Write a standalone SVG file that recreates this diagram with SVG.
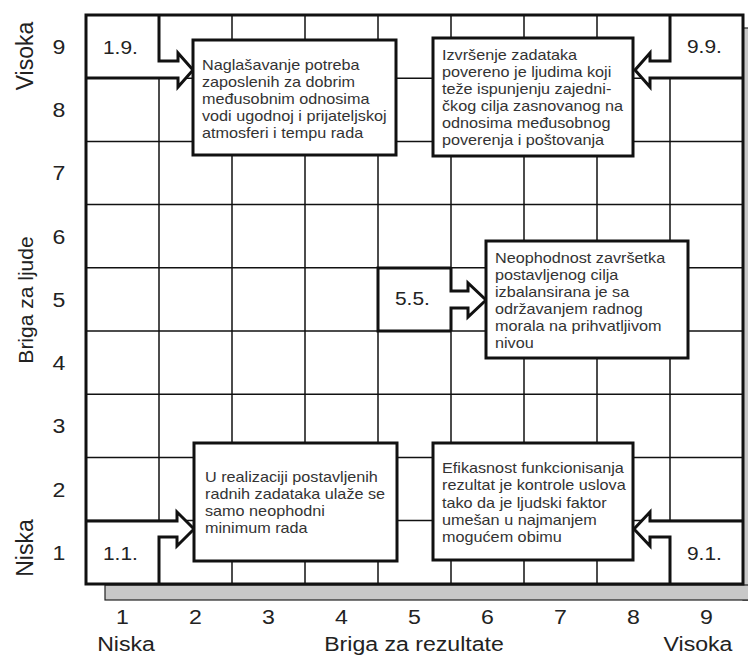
<svg xmlns="http://www.w3.org/2000/svg" width="748" height="657" viewBox="0 0 748 657">
<style>
text{font-family:"Liberation Sans",Arial,sans-serif;fill:#222}
.bt{font-size:15px;fill:#333}
.ax{font-size:21px}
.cl{font-size:19px}
.grid line{stroke:#111;stroke-width:1.5}
.thick{fill:none;stroke:#111;stroke-width:3;stroke-linejoin:miter}
.wf{fill:#fff;stroke:none}
.box{fill:#fff;stroke:#111;stroke-width:3}
</style>
<rect width="748" height="657" fill="#fff"/>
<!-- shadows -->
<rect x="743" y="28" width="20" height="572" fill="#c8c8c8" stroke="#222" stroke-width="1.2"/>
<rect x="105" y="585" width="660" height="15" fill="#c8c8c8" stroke="#222" stroke-width="1.2"/>
<rect x="86" y="15" width="657" height="569" fill="#fff"/>
<g class="grid">
<line x1="159" y1="15" x2="159" y2="584"/><line x1="232" y1="15" x2="232" y2="584"/>
<line x1="305" y1="15" x2="305" y2="584"/><line x1="378" y1="15" x2="378" y2="584"/>
<line x1="451" y1="15" x2="451" y2="584"/><line x1="524" y1="15" x2="524" y2="584"/>
<line x1="597" y1="15" x2="597" y2="584"/><line x1="670" y1="15" x2="670" y2="584"/>
<line x1="86" y1="78.2" x2="743" y2="78.2"/><line x1="86" y1="141.4" x2="743" y2="141.4"/>
<line x1="86" y1="204.6" x2="743" y2="204.6"/><line x1="86" y1="267.8" x2="743" y2="267.8"/>
<line x1="86" y1="331" x2="743" y2="331"/><line x1="86" y1="394.2" x2="743" y2="394.2"/>
<line x1="86" y1="457.4" x2="743" y2="457.4"/><line x1="86" y1="520.6" x2="743" y2="520.6"/>
</g>
<g id="connectors">
<path class="wf" d="M86,15 H159 V61 H178 V53 L193,70 L178,87 V78 H86 Z"/>
<path class="thick" d="M159,15 V61 H178 V53 L193,70 L178,87 V78 H86"/>
<path class="wf" d="M743,15 H670 V61 H650 V53 L635,70 L650,87 V78 H743 Z"/>
<path class="thick" d="M670,15 V61 H650 V53 L635,70 L650,87 V78 H743"/>
<path class="wf" d="M378,268 H451 V291 H468 V283 L486,300 L468,317 V308 H451 V331 H378 Z"/>
<path class="thick" d="M451,268 V291 H468 V283 L486,300 L468,317 V308 H451 V331"/>
<path class="thick" d="M451,268 H378 V331 H451"/>
<path class="wf" d="M86,521 H177 V512 L194,529 L177,546 V537 H159 V584 H86 Z"/>
<path class="thick" d="M86,521 H177 V512 L194,529 L177,546 V537 H159 V584"/>
<path class="wf" d="M743,521 H650 V512 L634,529 L650,546 V537 H670 V584 H743 Z"/>
<path class="thick" d="M743,521 H650 V512 L634,529 L650,546 V537 H670 V584"/>
</g>
<rect x="86" y="15" width="657" height="569" fill="none" stroke="#111" stroke-width="3"/>
<g id="cell-labels" class="cl">
<text transform="translate(103,54) scale(1.1,1)">1.9.</text>
<text transform="translate(687,53) scale(1.1,1)">9.9.</text>
<text transform="translate(395,305) scale(1.1,1)">5.5.</text>
<text transform="translate(103,560) scale(1.1,1)">1.1.</text>
<text transform="translate(687,560) scale(1.1,1)">9.1.</text>
</g>
<g id="node-19">
<rect class="box" x="193" y="40" width="203" height="115"/>
<text class="bt" transform="translate(202,70) scale(1.08,1)"><tspan x="0" y="0">Naglašavanje potreba</tspan><tspan x="0" dy="17">zaposlenih za dobrim</tspan><tspan x="0" dy="17">međusobnim odnosima</tspan><tspan x="0" dy="17">vodi ugodnoj i prijateljskoj</tspan><tspan x="0" dy="17">atmosferi i tempu rada</tspan></text>
</g>
<g id="node-99">
<rect class="box" x="433" y="38" width="200" height="118"/>
<text class="bt" transform="translate(442,60) scale(1.08,1)"><tspan x="0" y="0">Izvršenje zadataka</tspan><tspan x="0" dy="17">povereno je ljudima koji</tspan><tspan x="0" dy="17">teže ispunjenju zajedni-</tspan><tspan x="0" dy="17">čkog cilja zasnovanog na</tspan><tspan x="0" dy="17">odnosima međusobnog</tspan><tspan x="0" dy="17">poverenja i poštovanja</tspan></text>
</g>
<g id="node-55">
<rect class="box" x="486" y="241" width="202" height="117"/>
<text class="bt" transform="translate(495,263) scale(1.08,1)"><tspan x="0" y="0">Neophodnost završetka</tspan><tspan x="0" dy="17">postavljenog cilja</tspan><tspan x="0" dy="17">izbalansirana je sa</tspan><tspan x="0" dy="17">održavanjem radnog</tspan><tspan x="0" dy="17">morala na prihvatljivom</tspan><tspan x="0" dy="17">nivou</tspan></text>
</g>
<g id="node-11">
<rect class="box" x="194" y="443" width="203" height="118"/>
<text class="bt" transform="translate(205,482) scale(1.08,1)"><tspan x="0" y="0">U realizaciji postavljenih</tspan><tspan x="0" dy="17">radnih zadataka ulaže se</tspan><tspan x="0" dy="17">samo neophodni</tspan><tspan x="0" dy="17">minimum rada</tspan></text>
</g>
<g id="node-91">
<rect class="box" x="433" y="443" width="200" height="117"/>
<text class="bt" transform="translate(442,473) scale(1.08,1)"><tspan x="0" y="0">Efikasnost funkcionisanja</tspan><tspan x="0" dy="17.3">rezultat je kontrole uslova</tspan><tspan x="0" dy="17.3">tako da je ljudski faktor</tspan><tspan x="0" dy="17.3">umešan u najmanjem</tspan><tspan x="0" dy="17.3">mogućem obimu</tspan></text>
</g>
<g id="y-axis" class="ax" text-anchor="middle">
<text transform="translate(59,54) scale(1.1,1)">9</text>
<text transform="translate(59,117) scale(1.1,1)">8</text>
<text transform="translate(59,180) scale(1.1,1)">7</text>
<text transform="translate(59,244) scale(1.1,1)">6</text>
<text transform="translate(59,307) scale(1.1,1)">5</text>
<text transform="translate(59,370) scale(1.1,1)">4</text>
<text transform="translate(59,433) scale(1.1,1)">3</text>
<text transform="translate(59,497) scale(1.1,1)">2</text>
<text transform="translate(59,560) scale(1.1,1)">1</text>
<text transform="translate(33,56) rotate(-90)" style="font-size:23px">Visoka</text>
<text transform="translate(33,300) rotate(-90)" style="font-size:21px">Briga za ljude</text>
<text transform="translate(33,548) rotate(-90)" style="font-size:23px">Niska</text>
</g>
<g id="x-axis" class="ax" text-anchor="middle">
<text transform="translate(122.5,624) scale(1.1,1)">1</text>
<text transform="translate(195.5,624) scale(1.1,1)">2</text>
<text transform="translate(268.5,624) scale(1.1,1)">3</text>
<text transform="translate(341.5,624) scale(1.1,1)">4</text>
<text transform="translate(414.5,624) scale(1.1,1)">5</text>
<text transform="translate(487.5,624) scale(1.1,1)">6</text>
<text transform="translate(560.5,624) scale(1.1,1)">7</text>
<text transform="translate(633.5,624) scale(1.1,1)">8</text>
<text transform="translate(706.5,624) scale(1.1,1)">9</text>
<text transform="translate(126,651) scale(1.1,1)">Niska</text>
<text transform="translate(414,651) scale(1.1,1)">Briga za rezultate</text>
<text transform="translate(698,651) scale(1.1,1)">Visoka</text>
</g>
</svg>
